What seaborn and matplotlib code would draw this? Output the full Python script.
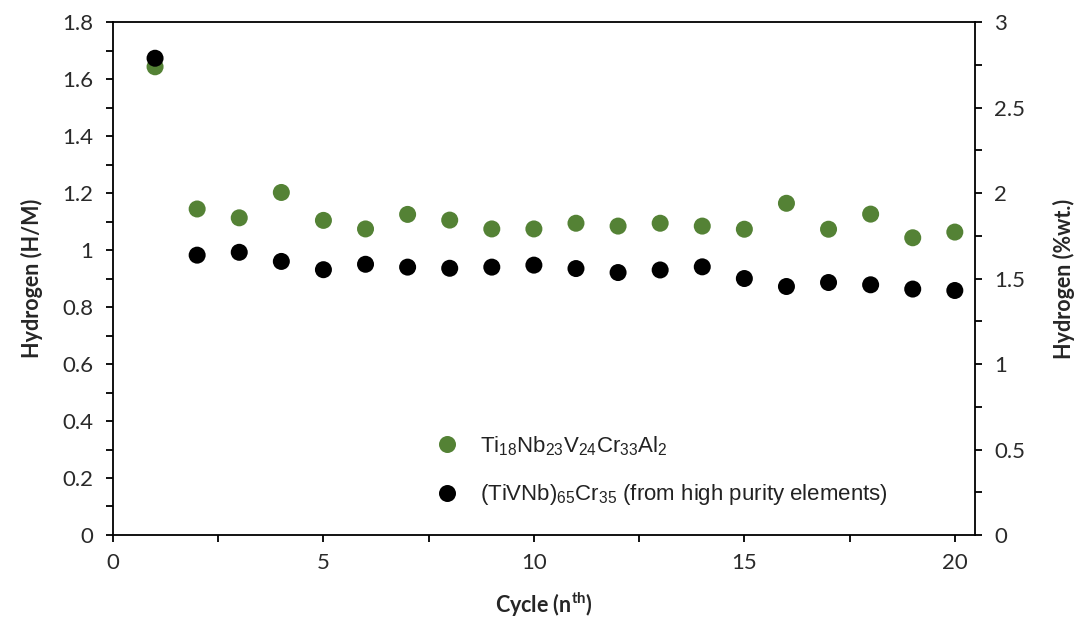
import numpy as np
import pandas as pd
import matplotlib
matplotlib.use("Agg")
import matplotlib.pyplot as plt
from matplotlib.ticker import MultipleLocator
import seaborn as sns

# ---- data ----
cycles = list(range(1, 21))
alloy_al = [1.643, 1.144, 1.113, 1.202, 1.104, 1.074, 1.125, 1.105, 1.074, 1.074,
            1.094, 1.084, 1.094, 1.084, 1.073, 1.164, 1.073, 1.126, 1.043, 1.063]
alloy_hp = [1.673, 0.982, 0.992, 0.960, 0.931, 0.950, 0.940, 0.936, 0.940, 0.947,
            0.935, 0.921, 0.930, 0.941, 0.900, 0.872, 0.886, 0.878, 0.863, 0.858]
series_names = [r'Ti$_{18}$Nb$_{23}$V$_{24}$Cr$_{33}$Al$_{2}$',
                r'(TiVNb)$_{65}$Cr$_{35}$ (from high purity elements)']
colors = ['#548235', '#000000']
left_ticks = [0, 0.2, 0.4, 0.6, 0.8, 1, 1.2, 1.4, 1.6, 1.8]
left_ticklabels = ['0', '0.2', '0.4', '0.6', '0.8', '1', '1.2', '1.4', '1.6', '1.8']
right_ticks = [0, 0.5, 1, 1.5, 2, 2.5, 3]
right_ticklabels = ['0', '0.5', '1', '1.5', '2', '2.5', '3']
x_ticks = [0, 5, 10, 15, 20]

df = pd.DataFrame({
    'Cycle': cycles * 2,
    'H': alloy_al + alloy_hp,
    'Series': [series_names[0]] * len(cycles) + [series_names[1]] * len(cycles),
})

sns.set_theme(style='white')
plt.rcParams['font.family'] = ['Lato', 'DejaVu Sans']
plt.rcParams['mathtext.default'] = 'regular'
plt.rcParams['mathtext.fontset'] = 'custom'
plt.rcParams['mathtext.rm'] = 'Liberation Sans'
plt.rcParams['mathtext.bf'] = 'Lato:bold'

fig = plt.figure(figsize=(10.8, 6.3), dpi=100)
ax = fig.add_axes([0.1046, 0.1508, 0.7982, 0.8142])

sns.scatterplot(data=df, x='Cycle', y='H', hue='Series', palette=colors,
                s=150, linewidth=0, ax=ax, legend=True, zorder=3)

ax.set_xlim(0, 20.48)
ax.set_ylim(0, 1.8)
ax.set_xticks(x_ticks)
ax.set_xticklabels([str(t) for t in x_ticks])
ax.xaxis.set_minor_locator(MultipleLocator(2.5))
ax.set_yticks(left_ticks)
ax.set_yticklabels(left_ticklabels)
ax.yaxis.set_minor_locator(MultipleLocator(0.1))

for side in ['left', 'right', 'top', 'bottom']:
    ax.spines[side].set_visible(True)
    ax.spines[side].set_color('black')
    ax.spines[side].set_linewidth(1.3)

ax.tick_params(axis='both', which='both', direction='out', length=5, width=1.3,
               color='black', labelsize=16, labelcolor='#2a2a2a')
ax.tick_params(axis='x', which='both', bottom=True, top=False, pad=8)
ax.tick_params(axis='y', which='both', left=True, right=False, pad=9)

ax.set_xlabel(r'Cycle (n$^{\mathbf{th}}$)', fontsize=15.5, fontweight='bold', labelpad=13)
ax.set_ylabel('Hydrogen (H/M)', fontsize=15.5, fontweight='bold', labelpad=14)

ax2 = ax.twinx()
ax2.set_ylim(0, 3)
ax2.set_yticks(right_ticks)
ax2.set_yticklabels(right_ticklabels)
ax2.yaxis.set_minor_locator(MultipleLocator(0.25))
ax2.tick_params(axis='y', which='both', direction='out', length=5, width=1.3,
                color='black', labelsize=16, labelcolor='#2a2a2a', right=True, pad=9)
for side in ['left', 'right', 'top', 'bottom']:
    ax2.spines[side].set_visible(False)
ax2.grid(False)
ax2.set_ylabel('Hydrogen (%wt.)', fontsize=15.5, fontweight='bold', labelpad=20)

ax.grid(False)
handles, labels = ax.get_legend_handles_labels()
leg = ax.legend(handles, labels, loc='lower left', bbox_to_anchor=(0.338, 0.015),
                frameon=False, handletextpad=0.5, labelspacing=1.1,
                markerscale=1.0, prop={'family': 'Liberation Sans', 'size': 16})
for t in leg.get_texts():
    t.set_color('#222222')

fig.savefig('out.png', dpi=100)
